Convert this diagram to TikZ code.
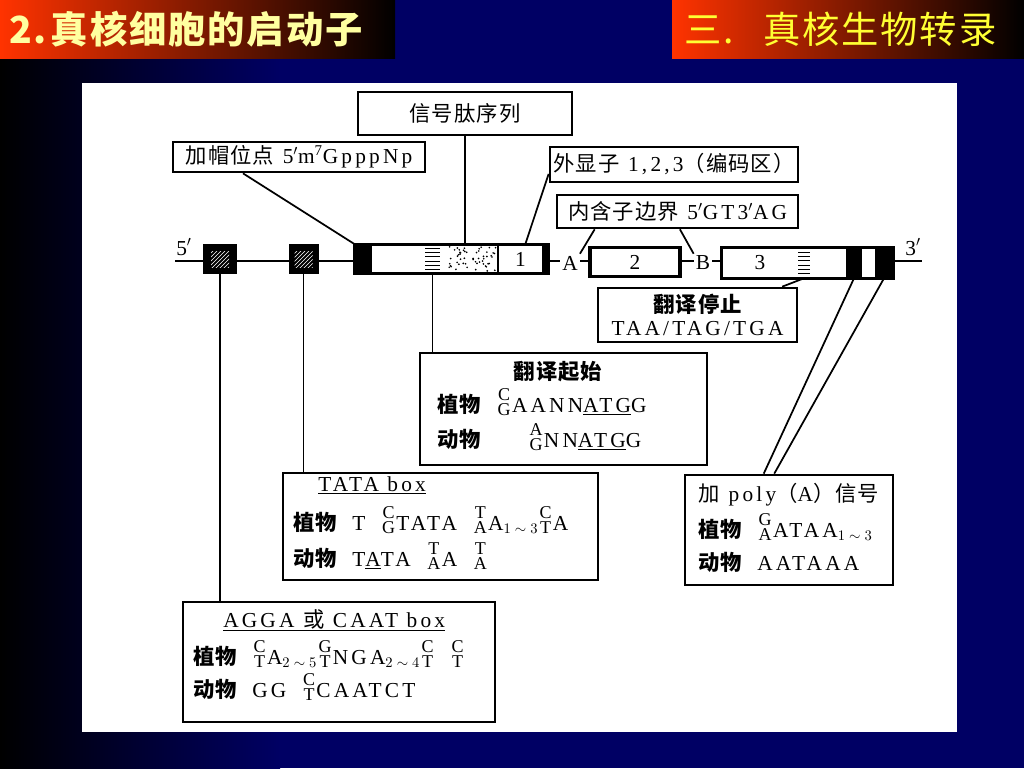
\documentclass[tikz,border=0pt]{standalone}
\usepackage{fontspec}
\setmainfont[LetterSpace=15]{Liberation Serif}
\newfontfamily\seqfont[LetterSpace=15, WordSpace=1.8]{Liberation Serif}
\newfontfamily\cjk[LetterSpace=5]{Noto Sans CJK SC}
\newfontfamily\ttlfont[LetterSpace=5]{Noto Sans CJK SC}
\usetikzlibrary{calc,patterns}

\definecolor{ttlred}{RGB}{255,51,0}
\definecolor{ttlpale}{RGB}{255,255,160}
\definecolor{ttlyel}{RGB}{255,255,51}
\definecolor{bgnavy}{RGB}{0,0,100}

% gestapelte Basen
\newcommand{\ud}[2]{\hspace{1pt}\raisebox{-2.5pt}{\fontsize{13.5}{13.5}\selectfont\shortstack{#1\\[-1pt]#2}}\hspace{1pt}}

\tikzset{
	sized/.style 2 args={minimum width=#1*0.75pt, minimum height=#2*0.75pt, inner sep=0pt},
	lblbox/.style={draw, line width=2pt, fill=white, align=center},
	lead/.style={line width=1.3pt},
	gene/.style={line width=1.6pt},
	seqtl/.style={anchor=base west, inner sep=0pt},
	seq/.style={anchor=base west, inner sep=0pt, font=\fontsize{16}{18}\seqfont},
	blk/.style={fill=black, inner sep=0pt},
	wht/.style={fill=white, inner sep=0pt},
	hatchsq/.style={fill=black, inner sep=0pt, path picture={
		\fill[pattern=north east lines, pattern color=white]
		($(path picture bounding box.center)+(-9,-8)$) rectangle
		($(path picture bounding box.center)+(9,8)$);}},
	stripes/.style={fill=white, inner sep=0pt, path picture={
		\foreach \k in {1,...,6}
			\draw[black, line width=0.8pt] ($(path picture bounding box.north west)!\k/7!(path picture bounding box.south west)$)
			-- ($(path picture bounding box.north east)!\k/7!(path picture bounding box.south east)$);}},
	speckle/.style={fill=white, inner sep=0pt, path picture={
		\pgfmathsetseed{11}
		\foreach \k in {1,...,55}
			\fill[black] ($(path picture bounding box.north west)+({2+47*rnd},{2+25*rnd})$) circle (0.7pt);}},
}

\begin{document}
\begin{tikzpicture}[x=0.75pt, y=-0.75pt, font=\fontsize{16}{18}\selectfont]
	\useasboundingbox (0,0) rectangle (1024,768);
	% Hintergrund
	\fill[bgnavy] (0,0) rectangle (1024,768);
	\shade[left color=black, right color=bgnavy] (0,0) rectangle (280,768);
	% Titelbalken
	\shade[left color=ttlred, right color=black] (0,0) rectangle (395,58);
	\shade[left color=ttlred, right color=black] (672,0) rectangle (1024,58);
	\node[anchor=west, inner sep=0pt, text=ttlpale, font=\fontsize{28}{28}\ttlfont\bfseries] (ttl) at (9,29) {2.\hspace{3pt}真核细胞的启动子};
	\node[anchor=west, inner sep=0pt, text=ttlyel, font=\fontsize{28}{28}\ttlfont] (ttr) at (684,29) {三.\hspace{22pt}真核生物转录};
	% Bildflaeche
	\fill[white] (82,83) rectangle (957,732);

	% Genlinie
	\coordinate (c5) at (175,261);
	\coordinate (c3) at (922,261);
	\draw[gene] (c5) -- (c3);
	\node[inner sep=1pt, anchor=south] (p5) at (184,257) {5$'$};
	\node[inner sep=1pt, anchor=south] (p3) at (913,257) {3$'$};

	% Promotorboxen
	\node[hatchsq, sized={34}{30}] (sq1) at (220,259) {};
	\node[hatchsq, sized={30}{30}] (sq2) at (303.5,259) {};

	% Exon 1
	\node[wht, sized={193}{29}] (ex1) at (451.5,259) {};
	\node[blk, sized={17}{29}] (ex1cap) at (363.5,259) {};
	\node[stripes, sized={15}{29}] (ex1st) at (432.5,259) {};
	\node[speckle, sized={51}{29}] (ex1sp) at (472.5,259) {};
	\node[wht, draw, line width=1.5pt, sized={45}{29}] (ex1n) at (520.5,259) {1};
	\node[blk, sized={5}{29}] (ex1end) at (545.5,259) {};
	\draw[line width=2pt] (ex1.north west) rectangle (ex1.south east);

	% Exon 2 mit Grenzen A und B
	\node[fill=white, inner sep=1.5pt] (A) at (570,263) {A};
	\node[wht, draw, line width=2.4pt, sized={90}{29}] (ex2) at (635,262) {2};
	\node[fill=white, inner sep=1.5pt] (B) at (703,263) {B};

	% Exon 3
	\node[wht, sized={171}{30}] (ex3) at (807.5,263) {};
	\node[wht, sized={76}{30}] (ex3n) at (760,263) {3};
	\node[stripes, sized={12}{30}] (ex3st) at (804,263) {};
	\node[blk, sized={16}{30}] (ex3b1) at (854,263) {};
	\node[blk, sized={18}{30}] (ex3b2) at (884,263) {};
	\draw[line width=2pt] (ex3.north west) rectangle (ex3.south east);

	% Beschriftungen oben
	\node[lblbox, sized={214}{43}] (sig) at (465,113.5) {\cjk 信号肽序列};
	\node[lblbox, sized={252}{30}] (cap) at (299,157) {{\cjk 加帽位点} 5$'$m\textsuperscript{7}GpppNp};
	\node[lblbox, sized={248}{35}] (exo) at (674,164.5) {{\cjk 外显子} 1,2,3{\cjk （编码区）}};
	\node[lblbox, sized={241}{33}] (intr) at (677.5,211.5) {{\cjk 内含子边界} 5$'$GT3$'$AG};
	\node[lblbox, sized={199}{54}, font=\fontsize{16}{17}\selectfont] (stop) at (697.5,315) {{\cjk\bfseries 翻译停止}\\TAA/TAG/TGA};

	% Kaesten unten
	\node[lblbox, sized={287}{112}] (start) at (563.5,409) {};
	\node[lblbox, sized={315}{107}] (tata) at (440.5,526.5) {};
	\node[lblbox, sized={312}{120}] (agga) at (339,662) {};
	\node[lblbox, sized={208}{110}] (polya) at (789,530) {};

	% Verbindungen
	\draw[lead] ($(cap.south west)!.28!(cap.south east)$) -- (ex1cap.north west);
	\draw[lead] (sig.south) -- (sig.south |- ex1sp.north);
	\draw[lead] ($(exo.south west)!.25!(exo.north west)$) -- ($(ex1n.north)+(5,0)$);
	\draw[lead] ($(intr.south west)!.16!(intr.south east)$) -- (A.north east);
	\draw[lead] ($(intr.south west)!.51!(intr.south east)$) -- (B.north west);
	\draw[lead] ($(stop.north west)!.92!(stop.north east)$) -- (ex3st.south);
	\draw[lead] (ex1st.south) -- (ex1st.south |- start.north);
	\draw[lead] (sq2.south) -- (sq2.south |- tata.north);
	\draw[lead] (sq1.south) -- (sq1.south |- agga.north);
	\draw[lead] (ex3b1.south) -- ($(polya.north west)!.38!(polya.north east)$);
	\draw[lead] (ex3b2.south) -- ($(polya.north west)!.43!(polya.north east)$);

	% Translationsstart
	\node (starttl) at (558,372) {\cjk\bfseries 翻译起始};
	\node[seq] (startp) at (437,412) {{\cjk\bfseries 植物} \ud{C}{G}AANN\underline{ATG}G};
	\node[seq] (starta) at (437,447) {\cjk\bfseries 动物};
	\node[seq] (startas) at (528,447) {\ud{A}{G}NN\underline{ATG}G};

	% TATA box
	\node[seqtl] (tatatl) at (318,491) {\underline{TATA box}};
	\node[seq] (tatap) at (293,530) {{\cjk\bfseries 植物} T \ud{C}{G}TATA \ud{T}{A}A\textsubscript{$1\sim3$}\ud{C}{T}A};
	\node[seq] (tataa) at (293,566) {{\cjk\bfseries 动物} T\underline{A}TA \ud{T}{A}A \ud{T}{A}};

	% AGGA / CAAT box
	\node[seqtl] (aggatl) at (223,627) {\underline{AGGA {\cjk 或} CAAT box}};
	\node[seq] (aggap) at (193,664) {{\cjk\bfseries 植物} \ud{C}{T}A\textsubscript{$2\sim5$}\ud{G}{T}NGA\textsubscript{$2\sim4$}\ud{C}{T} \ud{C}{T}};
	\node[seq] (aggaa) at (193,697) {{\cjk\bfseries 动物} GG \ud{C}{T}CAATCT};

	% Poly(A)-Signal
	\node (polyatl) at (789,495) {{\cjk 加} poly{\cjk （}A{\cjk ）信号}};
	\node[seq] (polyap) at (698,537) {{\cjk\bfseries 植物} \ud{G}{A}ATAA\textsubscript{$1\sim3$}};
	\node[seq] (polyaa) at (698,570) {{\cjk\bfseries 动物} AATAAA};
\end{tikzpicture}
\end{document}
